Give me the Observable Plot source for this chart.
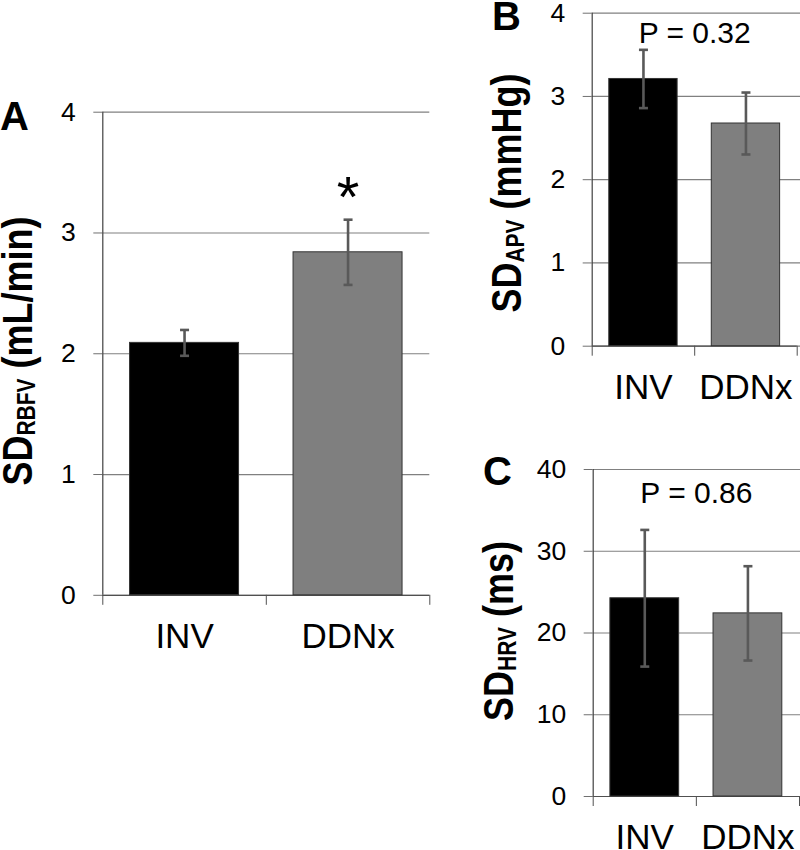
<!DOCTYPE html>
<html><head><meta charset="utf-8">
<script src="https://cdn.jsdelivr.net/npm/d3@7"></script>
<script src="https://cdn.jsdelivr.net/npm/@observablehq/plot@0.6"></script>
<style>
body{margin:0;background:#fff;}
#wrap{position:relative;width:800px;height:850px;overflow:hidden;background:#fff;}
#wrap svg{position:absolute;overflow:visible;}
</style></head><body><div id="wrap"></div>
<script>
// ---- data ----
const categories = ["INV", "DDNx"];

// Panel A: SD of renal blood flow velocity (mL/min)
const rbfvMean = [2.09, 2.84];
const rbfvErr = [0.107, 0.27];
const rbfvTicks = [0, 1, 2, 3, 4];
const rbfvNotes = [{category: "DDNx", value: 3.13, text: "*"}];

// Panel B: SD of arterial pressure (mmHg)
const apvMean = [3.21, 2.675];
const apvErr = [0.35, 0.372];
const apvTicks = [0, 1, 2, 3, 4];
const apvNotes = [{value: 3.64, text: "P = 0.32"}];

// Panel C: SD of heart rate (ms)
const hrvMean = [24.25, 22.4];
const hrvErr = [8.36, 5.77];
const hrvTicks = [0, 10, 20, 30, 40];
const hrvNotes = [{value: 35.88, text: "P = 0.86"}];

// ---- drawing ----
const FONT = "Liberation Sans, Arial, Helvetica, sans-serif";
const wrap = document.getElementById("wrap");
const capSymbol = {draw(ctx, size) { const r = Math.sqrt(size / Math.PI); ctx.moveTo(-r, 0); ctx.lineTo(r, 0); }};

function panel(cfg) {
  const {mean, err, ticks, notes, left, top, width, height, margins, letter, title, gridExtend} = cfg;
  const rows = categories.map((c, i) => ({category: c, idx: i, mean: mean[i], lo: mean[i] - err[i], hi: mean[i] + err[i]}));
  const pad = 1 / 6;
  const center = d => categories.indexOf(d.category) + 0.5;
  const boundaries = d3.range(categories.length + 1);
  const centers = categories.map((c, i) => i + 0.5);
  const svg = Plot.plot({
    width, height, ...margins,
    x: {domain: [0, categories.length]},
    y: {domain: [ticks[0], ticks[ticks.length - 1]]},
    color: {domain: categories, range: ["#000000", "#7f7f7f"]},
    style: {fontFamily: FONT, fontSize: "26px", color: "black", background: "transparent", overflow: "visible"},
    marks: [
      Plot.gridY(ticks, {stroke: "#808080", strokeOpacity: 1, strokeWidth: 1.2, insetRight: -gridExtend}),
      Plot.ruleY([ticks[0]], {stroke: "#505050", strokeWidth: 1.2}),
      Plot.rectY(rows, {x1: d => d.idx + pad, x2: d => d.idx + 1 - pad, y: "mean", fill: "category", stroke: "#333333", strokeWidth: 1}),
      Plot.ruleX(rows, {x: center, y1: "lo", y2: "hi", stroke: "#595959", strokeWidth: 2.6}),
      Plot.dot(rows, {x: center, y: "hi", symbol: capSymbol, r: 4.5, fill: "none", stroke: "#595959", strokeWidth: 2.6}),
      Plot.dot(rows, {x: center, y: "lo", symbol: capSymbol, r: 4.5, fill: "none", stroke: "#595959", strokeWidth: 2.6}),
      Plot.ruleX([0], {stroke: "#404040", strokeWidth: 1.2}),
      Plot.axisY(ticks, {tickSize: 9, tickPadding: 18, fontSize: 26.5, stroke: "#707070", label: null, tickFormat: d => String(d)}),
      Plot.axisX(boundaries, {tickSize: 10, tickFormat: () => "", stroke: "#505050", label: null}),
      Plot.axisX(centers, {tickSize: 0, tickPadding: 28, fontSize: 35, tickFormat: d => categories[Math.floor(d)], label: null}),
      Plot.text(notes, {
        x: d => d.category ? categories.indexOf(d.category) + 0.5 : categories.length / 2,
        y: "value", text: "text", lineAnchor: "bottom",
        fontSize: d => d.category ? 58 : 30, fontWeight: d => d.category ? "bold" : "normal", fill: "black"
      })
    ]
  });
  svg.style.left = left + "px";
  svg.style.top = top + "px";
  const s = d3.select(svg);
  // panel letter
  s.append("text").attr("x", letter.x).attr("y", letter.y).attr("text-anchor", "start")
    .attr("font-family", FONT).attr("font-weight", "bold").attr("font-size", 40).attr("fill", "black").text(letter.text);
  // y-axis title with subscript
  const t = s.append("text")
    .attr("transform", `translate(${title.x},${title.y}) rotate(-90) scale(1,1.2)`)
    .attr("text-anchor", "middle").attr("font-family", FONT).attr("font-weight", "bold")
    .attr("font-size", 36).attr("fill", "black");
  t.append("tspan").text(title.main);
  t.append("tspan").attr("font-size", 21).attr("dy", 2.5).text(title.sub);
  t.append("tspan").attr("dy", -2.5).text(title.rest);
  wrap.appendChild(svg);
}

panel({
  mean: rbfvMean, err: rbfvErr, ticks: rbfvTicks, notes: rbfvNotes,
  left: 0, top: 0, width: 450, height: 660,
  margins: {marginLeft: 102.3, marginRight: 20.7, marginTop: 111.7, marginBottom: 65.2},
  letter: {text: "A", x: 0, y: 130},
  title: {x: 32, y: 351, main: "SD", sub: "RBFV", rest: " (mL/min)"},
  gridExtend: 0
});
panel({
  mean: apvMean, err: apvErr, ticks: apvTicks, notes: apvNotes,
  left: 460, top: 0, width: 340, height: 420,
  margins: {marginLeft: 131.7, marginRight: 3.3, marginTop: 12.7, marginBottom: 74.3},
  letter: {text: "B", x: 32, y: 30},
  title: {x: 61, y: 193, main: "SD", sub: "APV", rest: " (mmHg)"},
  gridExtend: 3.3
});
panel({
  mean: hrvMean, err: hrvErr, ticks: hrvTicks, notes: hrvNotes,
  left: 460, top: 420, width: 340, height: 430,
  margins: {marginLeft: 132.7, marginRight: 1, marginTop: 49, marginBottom: 54},
  letter: {text: "C", x: 23, y: 65},
  title: {x: 53, y: 211, main: "SD", sub: "HRV", rest: " (ms)"},
  gridExtend: 1
});
</script>
</body></html>
